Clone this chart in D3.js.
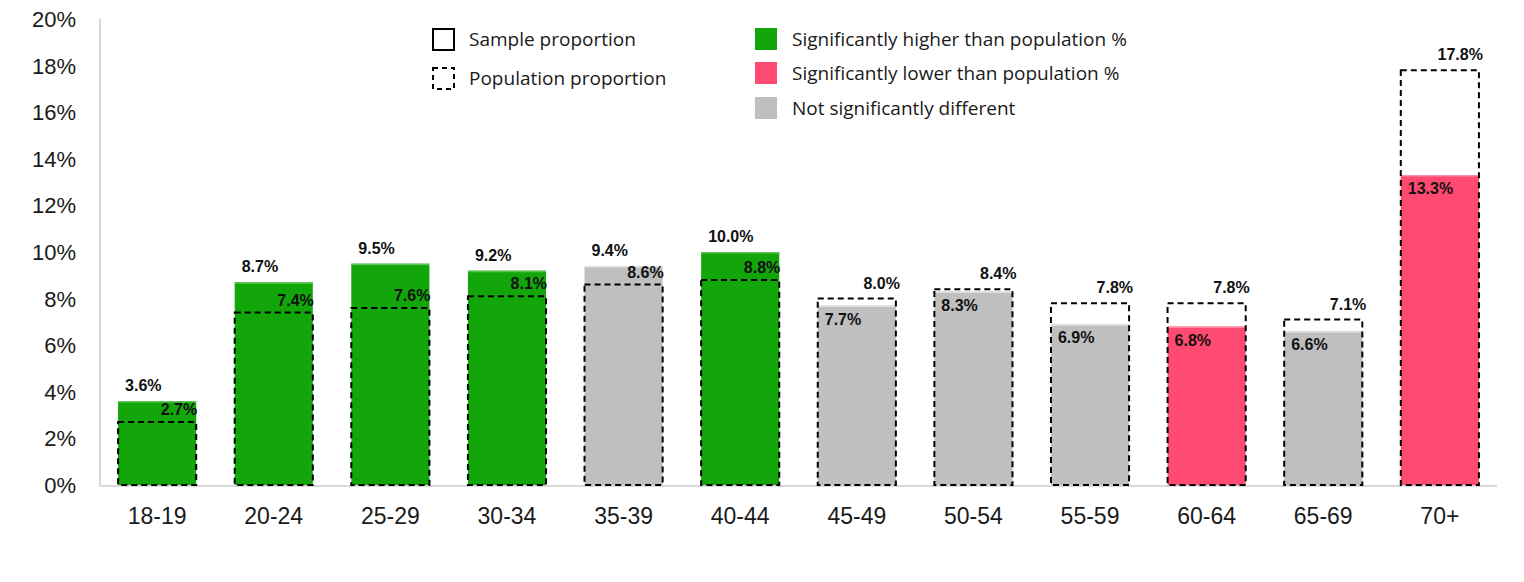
<!DOCTYPE html>
<html>
<head>
<meta charset="utf-8">
<script src="https://cdn.jsdelivr.net/npm/d3@7"></script>
<style>
  body { margin: 0; background: #fff; }
</style>
</head>
<body>
<div id="chart"></div>
<script>
// Age groups and proportions (%)
const ageGroups = ["18-19", "20-24", "25-29", "30-34", "35-39", "40-44", "45-49", "50-54", "55-59", "60-64", "65-69", "70+"];
const sampleProportion = [3.6, 8.7, 9.5, 9.2, 9.4, 10.0, 7.7, 8.3, 6.9, 6.8, 6.6, 13.3];
const populationProportion = [2.7, 7.4, 7.6, 8.1, 8.6, 8.8, 8.0, 8.4, 7.8, 7.8, 7.1, 17.8];
// "higher", "lower", "same" versus population
const significance = ["higher", "higher", "higher", "higher", "same", "higher", "same", "same", "same", "lower", "same", "lower"];
const yTicks = [0, 2, 4, 6, 8, 10, 12, 14, 16, 18, 20];

const colors = { higher: "#12a60a", lower: "#ff4b72", same: "#bfbfbf" };
const topEdge = { higher: "#5cc556", lower: "#ff8aa3", same: "#e0e0e0" };

const data = ageGroups.map((g, i) => ({
  group: g,
  sample: sampleProportion[i],
  pop: populationProportion[i],
  sig: significance[i]
}));

const W = 1524, H = 582;
const svg = d3.select("#chart")
  .append("svg")
    .attr("width", W)
    .attr("height", H);

// Scales
const x = d3.scaleBand()
  .domain(ageGroups)
  .range([100, 1497])
  .paddingInner(0.33)
  .paddingOuter(0.155);

const y = d3.scaleLinear()
  .domain([0, 20])
  .range([485, 19]);

// Y axis line + tick labels
svg.append("line")
  .attr("x1", 100).attr("x2", 100)
  .attr("y1", y(20)).attr("y2", y(0) + 1)
  .attr("stroke", "#d9d9d9")
  .attr("stroke-width", 2);

svg.append("g")
  .selectAll("text")
  .data(yTicks)
  .enter().append("text")
    .attr("x", 76)
    .attr("y", d => y(d))
    .attr("dy", "0.36em")
    .attr("text-anchor", "end")
    .style("font-family", "'Liberation Sans', Arial, sans-serif")
    .style("font-size", "22px")
    .style("fill", "#1a1a1a")
    .text(d => d + "%");

// Sample bars
const bars = svg.append("g");
bars.selectAll("rect")
  .data(data)
  .enter().append("rect")
    .attr("x", d => x(d.group))
    .attr("y", d => y(d.sample))
    .attr("width", x.bandwidth())
    .attr("height", d => y(0) - y(d.sample))
    .attr("fill", d => colors[d.sig]);

// light edge on top of each bar
bars.selectAll("line")
  .data(data)
  .enter().append("line")
    .attr("x1", d => x(d.group))
    .attr("x2", d => x(d.group) + x.bandwidth())
    .attr("y1", d => y(d.sample) + 0.75)
    .attr("y2", d => y(d.sample) + 0.75)
    .attr("stroke", d => topEdge[d.sig])
    .attr("stroke-width", 1.5);

// X axis line
svg.append("line")
  .attr("x1", 100).attr("x2", 1497)
  .attr("y1", y(0) + 1).attr("y2", y(0) + 1)
  .attr("stroke", "#d9d9d9")
  .attr("stroke-width", 2);

// Population dashed outlines
svg.append("g")
  .selectAll("rect")
  .data(data)
  .enter().append("rect")
    .attr("x", d => x(d.group))
    .attr("y", d => y(d.pop))
    .attr("width", x.bandwidth())
    .attr("height", d => y(0) - y(d.pop))
    .attr("fill", "none")
    .attr("stroke", "#000")
    .attr("stroke-width", 2)
    .attr("stroke-dasharray", "6,4");

// Category labels
svg.append("g")
  .selectAll("text")
  .data(ageGroups)
  .enter().append("text")
    .attr("x", d => x(d) + x.bandwidth() / 2)
    .attr("y", 516)
    .attr("dy", "0.36em")
    .attr("text-anchor", "middle")
    .style("font-family", "'Liberation Sans', Arial, sans-serif")
    .style("font-size", "23px")
    .style("fill", "#1a1a1a")
    .text(d => d);

// Data labels
const labelFont = "'Liberation Sans', Arial, sans-serif";
const labels = svg.append("g")
  .style("font-family", labelFont)
  .style("font-size", "16px")
  .style("font-weight", "bold")
  .style("fill", "#111");

// sample label: above the bar when higher, inside the bar top otherwise
labels.selectAll(".sample-label")
  .data(data)
  .enter().append("text")
    .attr("class", "sample-label")
    .attr("x", d => x(d.group) + 7)
    .attr("y", d => d.sample > d.pop ? y(d.sample) - 10 : y(d.sample) + 19)
    .text(d => d.sample.toFixed(1) + "%");

// population label: right aligned, just above the dashed top
labels.selectAll(".pop-label")
  .data(data)
  .enter().append("text")
    .attr("class", "pop-label")
    .attr("x", d => x(d.group) + x.bandwidth() + (d.pop > d.sample ? 4 : 1))
    .attr("y", d => d.pop > d.sample ? y(d.pop) - 10 : y(d.pop) - 7)
    .attr("text-anchor", "end")
    .text(d => d.pop.toFixed(1) + "%");

// Legend
const legendFont = "'Open Sans', sans-serif";
const outlineLegend = [
  { label: "Sample proportion", dash: null, y: 28 },
  { label: "Population proportion", dash: "5,4", y: 67 }
];
const colorLegend = [
  { label: "Significantly higher than population %", key: "higher", y: 28 },
  { label: "Significantly lower than population %", key: "lower", y: 62 },
  { label: "Not significantly different", key: "same", y: 97 }
];

const leg1 = svg.append("g").selectAll("g")
  .data(outlineLegend)
  .enter().append("g")
    .attr("transform", d => `translate(432,${d.y})`);
leg1.append("rect")
  .attr("x", 1).attr("y", 1)
  .attr("width", 21).attr("height", 21)
  .attr("fill", "#fff")
  .attr("stroke", "#000")
  .attr("stroke-width", 2)
  .attr("stroke-dasharray", d => d.dash);
leg1.append("text")
  .attr("x", 37)
  .attr("y", 11.5)
  .attr("dy", "0.36em")
  .style("font-family", legendFont)
  .style("font-size", "19px")
  .style("fill", "#1a1a1a")
  .text(d => d.label);

const leg2 = svg.append("g").selectAll("g")
  .data(colorLegend)
  .enter().append("g")
    .attr("transform", d => `translate(755,${d.y})`);
leg2.append("rect")
  .attr("width", 22).attr("height", 22)
  .attr("fill", d => colors[d.key]);
leg2.append("text")
  .attr("x", 37)
  .attr("y", 11)
  .attr("dy", "0.36em")
  .style("font-family", legendFont)
  .style("font-size", "19px")
  .style("fill", "#1a1a1a")
  .text(d => d.label);
</script>
</body>
</html>
